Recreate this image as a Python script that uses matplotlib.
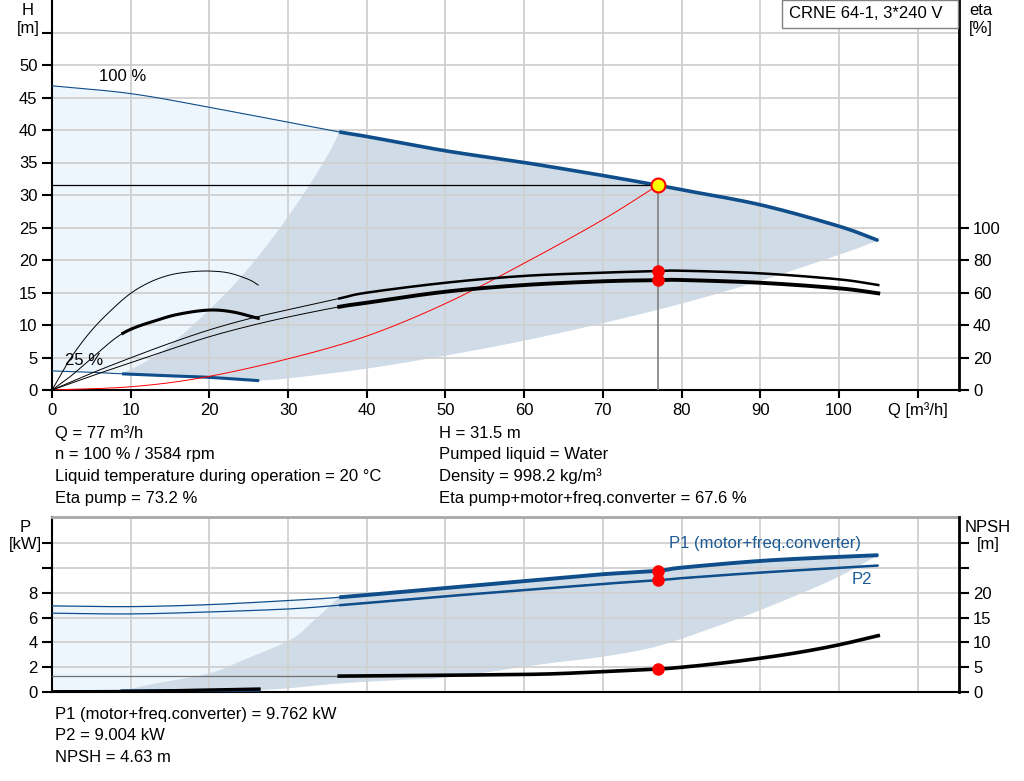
import numpy as np
import matplotlib.pyplot as plt
from matplotlib.patches import Rectangle

plt.rcParams['font.family'] = ['Liberation Sans', 'DejaVu Sans']
plt.rcParams['font.size'] = 12

# ---- data ----
# head curve at 100 % speed
q_100 = [0, 10, 20, 30, 36.5, 40, 50, 60, 70, 77, 80, 90, 100, 105]
h_100 = [46.8, 45.6, 43.5, 41.2, 39.7, 39.0, 36.8, 35.0, 33.0, 31.5, 30.8, 28.5, 25.2, 23.0]
# head curve at 25 % speed
q_25 = [0, 5, 8.9, 15, 20, 26.3]
h_25 = [2.93, 2.72, 2.49, 2.18, 1.94, 1.44]
# min / max flow limits of the operating range
q_min = [8.9, 12, 15, 19.1, 23.2, 26.5, 30, 32.7, 35.4, 36.5]
h_min = [2.49, 4.4, 6.9, 11.3, 16.3, 21.0, 26.7, 31.5, 36.9, 39.7]
q_max = [26.3, 30, 40, 50, 60, 70, 80, 90, 100, 105]
h_max = [1.44, 1.8, 3.3, 5.3, 7.6, 10.3, 13.3, 16.8, 20.8, 23.0]
# system curve through the duty point
q_sys = [0, 10, 19.1, 30, 40, 50, 60, 70, 77]
h_sys = [0, 0.5, 1.9, 4.8, 8.3, 13.3, 19.5, 26.2, 31.5]
# efficiencies, 100 % speed
q_eta = [0, 5, 10, 15, 20, 25, 30, 36.5, 40, 50, 60, 70, 77, 80, 90, 100, 105]
eta_pump = [0, 10.3, 19.8, 28.8, 37, 43.8, 49.4, 56.3, 59.9, 66, 70.2, 72.2, 73.2, 73.4, 71.8, 68.1, 64.6]
eta_tot = [0, 8.6, 16.8, 25, 32.8, 39.3, 44.9, 51.2, 53.7, 60.5, 64.6, 66.9, 67.6, 67.7, 66.0, 62.6, 59.5]
# efficiencies, 25 % speed
q_eta25 = [0, 2.5, 5, 7.5, 10, 12.5, 15, 17.5, 20, 22.5, 25, 26.2]
eta_pump25 = [0, 20.5, 36.5, 49, 59.5, 66.5, 70.8, 72.7, 73.2, 72, 68, 64.6]
q_etat25 = [0, 2.3, 4.8, 9.0, 13.7, 16.7, 20.1, 23, 26.2]
eta_tot25 = [0, 8.2, 18.5, 34.9, 43.5, 47.2, 49.2, 48, 44.1]

# power and NPSH
q_p = [0, 10, 20, 30, 36.5, 50.6, 63, 70, 77, 80, 90, 100, 105]
p1 = [6.94, 6.88, 7.04, 7.37, 7.63, 8.41, 9.11, 9.49, 9.762, 10.02, 10.56, 10.89, 11.02]
p2 = [6.35, 6.29, 6.45, 6.69, 6.99, 7.74, 8.36, 8.71, 9.004, 9.17, 9.62, 10.0, 10.19]
q_p25 = [0, 8.9, 15, 20, 26.3]
p1_25 = [0.1, 0.1, 0.11, 0.13, 0.15]
q_pmin = [8.9, 13.3, 20, 24.4, 30.3, 33, 36.5]
p_min = [0.1, 0.7, 1.5, 2.6, 4.2, 5.6, 7.63]
q_pmax = [26.3, 30, 36.7, 45, 50.6, 63, 70, 77, 84.5, 90, 95, 100, 105]
p_max = [0.15, 0.3, 0.7, 1.0, 1.2, 2.3, 2.85, 3.7, 5.3, 6.6, 7.9, 9.3, 11.02]
q_npsh = [36.5, 45, 55, 63, 70, 77, 80, 85, 90, 95, 100, 105]
npsh = [3.2, 3.3, 3.45, 3.63, 4.1, 4.63, 4.98, 5.8, 6.8, 8.0, 9.5, 11.35]
q_npsh25 = [0, 8.9, 15, 20, 26.3]
npsh25 = [0.05, 0.1, 0.25, 0.4, 0.6]

q_duty, h_duty = 77, 31.5

info_left = ['Q = 77 m³/h', 'n = 100 % / 3584 rpm',
             'Liquid temperature during operation = 20 °C', 'Eta pump = 73.2 %']
info_right = ['H = 31.5 m', 'Pumped liquid = Water', 'Density = 998.2 kg/m³',
              'Eta pump+motor+freq.converter = 67.6 %']
info_bottom = ['P1 (motor+freq.converter) = 9.762 kW', 'P2 = 9.004 kW', 'NPSH = 4.63 m']

BLUE = '#0f4e8a'
LIGHT = '#edf5fd'
DARK = '#cfdbe6'
GRID = '#d0d0d0'
W, H = 1024, 781


def smooth(qs, vs, n=16):
    # catmull-rom through the read points, only so the lines are drawn round
    p = np.column_stack([qs, vs]).astype(float)
    p = np.vstack([2 * p[0] - p[1], p, 2 * p[-1] - p[-2]])
    t = np.linspace(0, 1, n, endpoint=False)[:, None]
    out = []
    for i in range(1, len(p) - 2):
        p0, p1_, p2_, p3 = p[i - 1], p[i], p[i + 1], p[i + 2]
        out.append(0.5 * (2 * p1_ + (-p0 + p2_) * t + (2 * p0 - 5 * p1_ + 4 * p2_ - p3) * t ** 2
                          + (-p0 + 3 * p1_ - 3 * p2_ + p3) * t ** 3))
    out.append(p[-2][None, :])
    out = np.vstack(out)
    return out[:, 0], out[:, 1]


def seg(qs, vs, q0, q1):
    # smooth part of a curve between q0 and q1
    x, y = smooth(qs, vs)
    m = (x >= q0 - 1e-9) & (x <= q1 + 1e-9)
    return x[m], y[m]


def style(ax, yt, ylab, ygrid):
    ax.set_xlim(0, 115.2)
    for x in np.arange(10, 111, 10):
        ax.axvline(x, color=GRID, lw=1.3, zorder=1.5)
    for y in ygrid:
        ax.axhline(y, color=GRID, lw=1.3, zorder=1.5)
    ax.set_yticks(yt)
    ax.set_yticklabels(ylab)
    ax.tick_params(axis='y', direction='out', length=7, width=1.5)
    ax.spines['left'].set_linewidth(1.5)
    ax.spines['bottom'].set_linewidth(1.5)
    ax.spines['right'].set_visible(False)


fig = plt.figure(figsize=(W / 100, H / 100), dpi=100)

# ---------------- head / efficiency chart ----------------
ax1 = fig.add_axes([52 / W, 1 - 390 / H, 906.5 / W, 390 / H])
ax1.set_ylim(0, 60)
style(ax1, np.arange(0, 56, 5), [str(v) for v in range(0, 51, 5)] + [''], np.arange(5, 56, 5))
ax1.spines['top'].set_visible(False)
ax1.set_xticks(np.arange(0, 111, 10))
ax1.set_xticklabels([str(v) for v in range(0, 101, 10)] + ['Q [m³/h]'])
ax1.tick_params(axis='x', direction='out', length=6, width=1.5, pad=3)

# operating range
s100 = smooth(q_100, h_100)
smax = smooth(q_max, h_max)
s25 = smooth(q_25, h_25)
smin = smooth(q_min, h_min)
lq = np.concatenate([s100[0], smax[0][::-1], s25[0][::-1]])
lh = np.concatenate([s100[1], smax[1][::-1], s25[1][::-1]])
ax1.fill(lq, lh, color=LIGHT, lw=0, zorder=1)
tq, th = seg(q_100, h_100, 36.5, 105)
bq, bh = seg(q_25, h_25, 8.9, 26.3)
dq = np.concatenate([tq, smax[0][::-1], bq[::-1], smin[0]])
dh = np.concatenate([th, smax[1][::-1], bh[::-1], smin[1]])
ax1.fill(dq, dh, color=DARK, lw=0, zorder=1)

# head curves
ax1.plot(*s100, color=BLUE, lw=0.8, zorder=3)
ax1.plot(tq, th, color=BLUE, lw=2.6, zorder=3, solid_capstyle='butt')
ax1.plot(*s25, color=BLUE, lw=0.8, zorder=3)
ax1.plot(bq, bh, color=BLUE, lw=2.2, zorder=3, solid_capstyle='butt')
ax1.plot(*smooth(q_sys, h_sys), color='red', lw=0.7, zorder=3)
ax1.plot([0, q_duty], [h_duty, h_duty], color='black', lw=0.9, zorder=3)
ax1.plot([q_duty, q_duty], [0, h_duty], color='#808080', lw=1.2, zorder=3)
ax1.plot(q_duty, h_duty, 'o', ms=10, mfc='#ffff00', mec='red', mew=1.5, zorder=6)
ax1.text(6.0, 48.2, '100 %', va='center')
ax1.text(1.65, 4.5, '25 %', va='center')

# efficiency on right axis
ax1r = ax1.twinx()
ax1r.set_ylim(0, 240)
ax1r.set_yticks(np.arange(0, 101, 20))
ax1r.tick_params(axis='y', direction='out', length=7, width=1.5)
for s in ['top', 'left', 'bottom']:
    ax1r.spines[s].set_visible(False)
ax1r.spines['right'].set_linewidth(2)
ax1r.plot(*smooth(q_eta, eta_pump), color='black', lw=0.7)
ax1r.plot(*smooth(q_eta, eta_tot), color='black', lw=0.7)
ax1r.plot(*seg(q_eta, eta_pump, 36.5, 105), color='black', lw=1.8)
ax1r.plot(*seg(q_eta, eta_tot, 36.5, 105), color='black', lw=2.8)
ax1r.plot(*smooth(q_eta25, eta_pump25), color='black', lw=0.7)
ax1r.plot(*smooth(q_etat25, eta_tot25), color='black', lw=0.7)
ax1r.plot(*seg(q_etat25, eta_tot25, 9.0, 26.2), color='black', lw=2.2)
ax1r.plot([q_duty, q_duty], [73.2, 67.6], 'o', color='red', ms=8, zorder=6)

fig.text(28 / W, 1 - 19.5 / H, 'H\n[m]', ha='center', va='center')
fig.text(981 / W, 1 - 19.5 / H, 'eta\n[%]', ha='center', va='center')
fig.patches.append(Rectangle((782 / W, 1 - 28 / H), 176 / W, 28 / H, transform=fig.transFigure,
                             facecolor='white', edgecolor='#808080', lw=1, zorder=5))
fig.text(789 / W, 1 - 14 / H, 'CRNE 64-1, 3*240 V', va='center', zorder=6)

for i, t in enumerate(info_left):
    fig.text(55 / W, 1 - (433 + 21.7 * i) / H, t, va='center')
for i, t in enumerate(info_right):
    fig.text(439 / W, 1 - (433 + 21.7 * i) / H, t, va='center')

# ---------------- power / NPSH chart ----------------
ax2 = fig.add_axes([52 / W, 1 - 692 / H, 906.5 / W, 175 / H])
ax2.set_ylim(0, 14.1)
style(ax2, np.arange(0, 13, 2), ['0', '2', '4', '6', '8', '', ''], np.arange(2, 13, 2))
ax2.set_xticks([])
ax2.spines['top'].set_color('#a8a8a8')
ax2.spines['top'].set_linewidth(2)

sp1 = smooth(q_p, p1)
spmax = smooth(q_pmax, p_max)
sp25 = smooth(q_p25, p1_25)
spmin = smooth(q_pmin, p_min)
lq = np.concatenate([sp1[0], spmax[0][::-1], sp25[0][::-1]])
lp = np.concatenate([sp1[1], spmax[1][::-1], sp25[1][::-1]])
ax2.fill(lq, lp, color=LIGHT, lw=0, zorder=1)
tq, tp = seg(q_p, p1, 36.5, 105)
bq, bp = seg(q_p25, p1_25, 8.9, 26.3)
dq = np.concatenate([tq, spmax[0][::-1], bq[::-1], spmin[0]])
dp = np.concatenate([tp, spmax[1][::-1], bp[::-1], spmin[1]])
ax2.fill(dq, dp, color=DARK, lw=0, zorder=1)

ax2.plot(*sp1, color=BLUE, lw=0.9, zorder=3)
ax2.plot(*smooth(q_p, p2), color=BLUE, lw=0.9, zorder=3)
ax2.plot(tq, tp, color=BLUE, lw=2.8, zorder=3, solid_capstyle='butt')
ax2.plot(*seg(q_p, p2, 36.5, 105), color=BLUE, lw=1.8, zorder=3, solid_capstyle='butt')
ax2.plot(*sp25, color=BLUE, lw=1.0, zorder=3)
ax2.plot(bq, bp, color=BLUE, lw=2.2, zorder=3)
ax2.plot([q_duty, q_duty], [9.762, 9.004], 'o', color='red', ms=8, zorder=6)
ax2.text(78.4, 11.95, 'P1 (motor+freq.converter)', color='#1c5a94', va='center')
ax2.text(101.6, 9.05, 'P2', color='#1c5a94', va='center')

ax2r = ax2.twinx()
ax2r.set_ylim(0, 35.25)
ax2r.set_yticks(np.arange(0, 31, 5))
ax2r.set_yticklabels(['0', '5', '10', '15', '20', '', ''])
ax2r.tick_params(axis='y', direction='out', length=7, width=1.5)
for s in ['top', 'left', 'bottom']:
    ax2r.spines[s].set_visible(False)
ax2r.spines['right'].set_linewidth(2)
ax2r.plot([0, 36.5], [3.2, 3.2], color='#707070', lw=0.9)
ax2r.plot(*smooth(q_npsh, npsh), color='black', lw=2.6)
ax2r.plot(*smooth(q_npsh25, npsh25), color='black', lw=2.4)
ax2r.plot(q_duty, 4.63, 'o', color='red', ms=8, zorder=6)

fig.text(25 / W, 1 - 536 / H, 'P\n[kW]', ha='center', va='center')
fig.text(988 / W, 1 - 536 / H, 'NPSH\n[m]', ha='center', va='center')
for i, t in enumerate(info_bottom):
    fig.text(55 / W, 1 - (714 + 21.5 * i) / H, t, va='center')

fig.savefig('out.png', dpi=100)
